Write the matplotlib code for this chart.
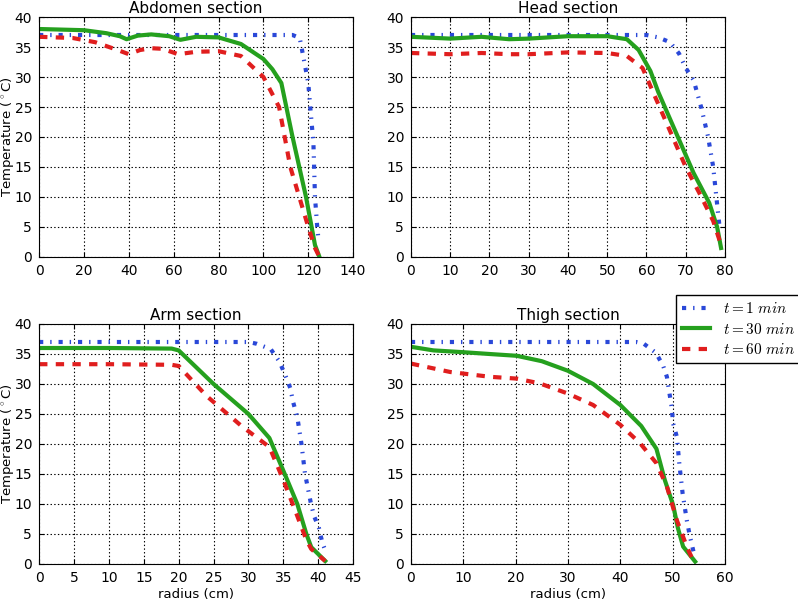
import matplotlib
matplotlib.use('Agg')
import matplotlib.pyplot as plt

plt.rcParams['mathtext.fontset'] = 'cm'
plt.rcParams['font.family'] = 'DejaVu Sans'
plt.rcParams['lines.scale_dashes'] = False
plt.rcParams['lines.dashdot_pattern'] = [3, 5, 1, 5]
plt.rcParams['lines.dashed_pattern'] = [6, 6]

# Abdomen
abd_x1 = [0, 20, 40, 60, 80, 100, 113, 116.2, 118, 120, 121, 122.3, 123, 124, 124.6]
abd_t1 = [37, 37, 37, 37, 37, 37, 37, 36.5, 33, 29, 24.5, 19, 10, 5, 2.8]
abd_x30 = [0, 10, 20, 30, 36, 39, 44, 50, 58, 63, 70, 80, 90, 100, 104, 108, 113, 119, 123, 125]
abd_t30 = [38, 37.9, 37.8, 37.3, 36.8, 36.3, 36.9, 37.1, 36.8, 36.2, 36.7, 36.6, 35.5, 33, 31.3, 29, 20, 10, 2, 0]
abd_x60 = [0, 15, 25, 35, 40, 45, 50, 55, 62, 70, 80, 90, 100, 107, 112, 120, 123, 125]
abd_t60 = [36.7, 36.5, 35.8, 34.5, 33.8, 34.5, 34.8, 34.7, 33.8, 34.2, 34.3, 33.5, 30, 25, 15, 5, 1.5, 0]

# Head
head_x1 = [0, 20, 40, 60, 63, 66, 68.3, 70, 72, 74, 75.7, 77, 77.8, 78.7]
head_t1 = [37, 37, 37, 37, 36.6, 35.8, 33.9, 31.5, 29.5, 24.8, 20, 15, 10, 4.5]
head_x30 = [0, 10, 18, 25, 30, 40, 50, 55, 58, 61, 63, 68, 72, 76, 78, 79]
head_t30 = [36.7, 36.4, 36.7, 36.3, 36.4, 36.8, 36.8, 36.3, 34.5, 31, 27.5, 20, 14, 9, 5, 1.5]
head_x60 = [0, 10, 18, 25, 30, 40, 50, 55, 59, 62, 66, 70, 74, 77, 79]
head_t60 = [34, 33.8, 34, 33.8, 33.8, 34.1, 34, 33.5, 31.5, 27, 21, 15, 10, 6, 2]

# Arm
arm_x1 = [0, 10, 20, 30, 31.2, 33.2, 34.4, 35.2, 36, 36.4, 37, 37.6, 38.1, 38.9, 39.4, 40.1, 40.6, 41]
arm_t1 = [37, 37, 37, 37, 36.7, 35.8, 33.8, 31.7, 29.3, 27, 24.5, 20, 15.1, 10.4, 8, 6, 3.5, 2.3]
arm_x30 = [0, 10, 19, 20, 25, 30, 33, 35.2, 37, 38.3, 39, 41]
arm_t30 = [36, 36, 35.9, 35.6, 30, 25, 21, 15, 10, 5, 2.8, 0.5]
arm_x60 = [0, 10, 19, 20, 24, 29, 33, 35, 37, 38.3, 39, 41]
arm_t60 = [33.3, 33.3, 33.2, 33, 28, 23, 19.5, 14, 8, 4, 2.5, 0.5]

# Thigh
thigh_x1 = [0, 20, 40, 43, 44.5, 46.8, 48.2, 48.9, 49.4, 49.8, 50.1, 50.8, 51.3, 51.9, 52.7, 53.3, 54]
thigh_t1 = [37, 37, 37, 37, 36.7, 35.2, 33, 31.2, 28.4, 26.2, 23.4, 21.2, 16.5, 11.8, 7.3, 4.6, 2]
thigh_x30 = [0, 4.3, 10, 15, 20.2, 25, 30, 34.8, 40, 44, 46.9, 48.5, 50.1, 51, 52, 54.3]
thigh_t30 = [36.2, 35.6, 35.3, 35, 34.7, 33.8, 32.2, 30, 26.5, 23, 19.2, 14, 9.8, 6, 2.9, 0.4]
thigh_x60 = [0, 7.5, 15.1, 20.2, 24.6, 30, 34.8, 40, 43.8, 46.9, 48.9, 50.8, 52.7, 54]
thigh_t60 = [33.4, 32, 31.2, 30.9, 30.1, 28.4, 26.5, 23.2, 20.1, 16.8, 12.9, 7.3, 2.9, 0.4]

labels = ['$t=1\\ min$', '$t=30\\ min$', '$t=60\\ min$']

fig = plt.figure(figsize=(7.98, 6.01), dpi=100)

paineis = [
    ([0.049, 0.5724, 0.3935, 0.3993], 'Abdomen section', abd_x1, abd_t1, abd_x30, abd_t30, abd_x60, abd_t60, (0, 140), range(0, 141, 20), True, False),
    ([0.515, 0.5724, 0.3935, 0.3993], 'Head section', head_x1, head_t1, head_x30, head_t30, head_x60, head_t60, (0, 80), range(0, 81, 10), False, False),
    ([0.049, 0.0616, 0.3935, 0.3993], 'Arm section', arm_x1, arm_t1, arm_x30, arm_t30, arm_x60, arm_t60, (0, 45), range(0, 46, 5), True, True),
    ([0.515, 0.0616, 0.3935, 0.3993], 'Thigh section', thigh_x1, thigh_t1, thigh_x30, thigh_t30, thigh_x60, thigh_t60, (0, 60), range(0, 61, 10), False, True),
]

linhas = []
for pos, titulo, x1, t1, x30, t30, x60, t60, xlim, xt, ylab, xlab in paineis:
    ax = fig.add_axes(pos)
    l1, = ax.plot(x1, t1, color='#2a48d8', linestyle='-.', linewidth=3)
    l2, = ax.plot(x30, t30, color='#25a01e', linestyle='-', linewidth=3)
    l3, = ax.plot(x60, t60, color='#e01e1e', linestyle='--', linewidth=3)
    linhas = [l1, l2, l3]
    ax.set_xlim(*xlim)
    ax.set_ylim(0, 40)
    ax.set_xticks(list(xt))
    ax.set_yticks(range(0, 41, 5))
    ax.grid(True, color='black', linestyle=':', linewidth=0.8)
    ax.tick_params(direction='in', top=True, right=True, labelsize=10, pad=5)
    ax.set_title(titulo, fontsize=11, pad=3)
    if ylab:
        ax.set_ylabel('Temperature ($^\\circ$C)', fontsize=9.5)
        ax.yaxis.set_label_coords(-0.075, 0.5)
    if xlab:
        ax.set_xlabel('radius (cm)', fontsize=9.5, labelpad=2)

fig.legend(linhas, labels, loc='upper left', bbox_to_anchor=(0.847, 0.509),
           fancybox=False, edgecolor='black', fontsize=11, handlelength=1.8,
           handletextpad=0.9, labelspacing=0.35, framealpha=1, borderaxespad=0,
           borderpad=0.4)

fig.savefig('out.png', dpi=100)
